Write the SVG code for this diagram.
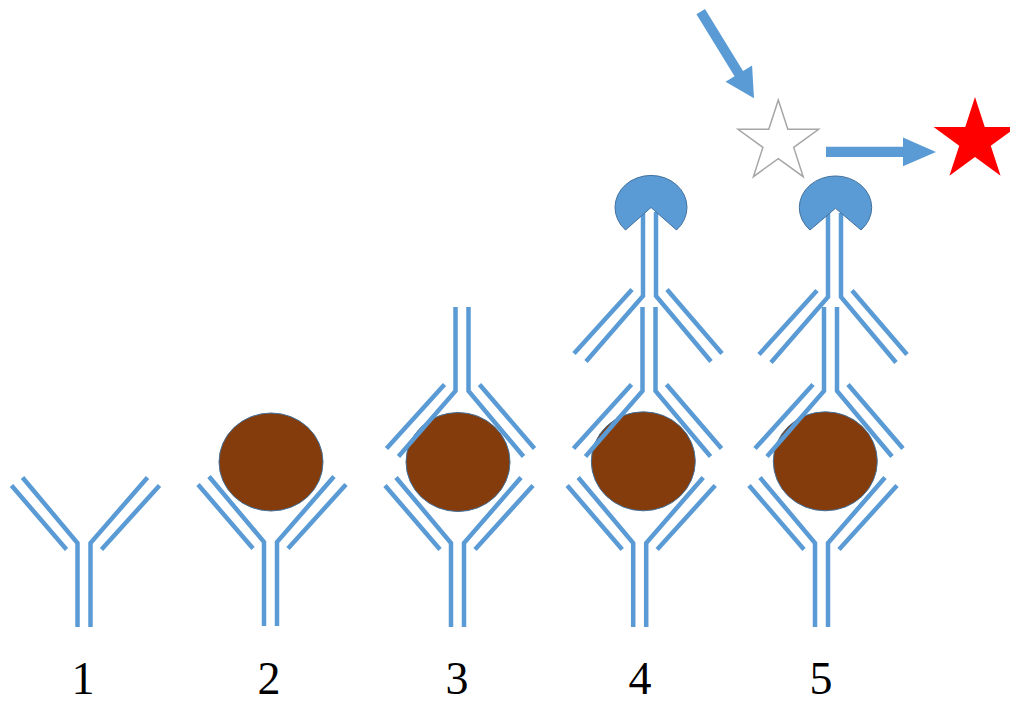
<svg xmlns="http://www.w3.org/2000/svg" xmlns:xlink="http://www.w3.org/1999/xlink" width="1010" height="704" viewBox="0 0 1010 704">
  <style>
    .ab { fill: none; stroke: #5B9BD5; stroke-width: 4.5; stroke-linejoin: miter; stroke-linecap: butt; }
    .antigen { fill: #843C0C; stroke: #41719C; stroke-width: 1; }
    .enzyme { fill: #5B9BD5; stroke: #41719C; stroke-width: 1; }
    .arrow { fill: #5B9BD5; }
    .substrate { fill: #FFFFFF; stroke: #A6A6A6; stroke-width: 1.5; }
    .product { fill: #FF0000; }
    .label { font-family: "Liberation Serif", "Times New Roman", serif; font-size: 46px; fill: #000000; text-anchor: middle; }
  </style>
  <defs>
    <!-- Y-shaped antibody, origin at the hinge, stem pointing down -->
    <g id="antibody">
      <polyline class="ab" points="-61.5,-65.5 -6.5,0 -6.5,84"/>
      <polyline class="ab" points="63.5,-65.5 6.5,0 6.5,84"/>
      <line class="ab" x1="-72.5" y1="-57.5" x2="-17.5" y2="6.5"/>
      <line class="ab" x1="75.5" y1="-57.5" x2="17.5" y2="6.5"/>
    </g>
  </defs>

  <!-- 1: capture antibody alone -->
  <g id="step1">
    <use xlink:href="#antibody" transform="translate(84,543)"/>
  </g>

  <!-- 2: antigen bound -->
  <g id="step2">
    <ellipse class="antigen" cx="271" cy="462" rx="52" ry="49"/>
    <use xlink:href="#antibody" transform="translate(270.5,542)"/>
  </g>

  <!-- 3: detection antibody added -->
  <g id="step3">
    <ellipse class="antigen" cx="458" cy="462" rx="52" ry="49.5"/>
    <use xlink:href="#antibody" transform="translate(457.5,543)"/>
    <use xlink:href="#antibody" transform="translate(462,391) rotate(180)"/>
  </g>

  <!-- 4: enzyme-linked secondary antibody -->
  <g id="step4">
    <ellipse class="antigen" cx="643.3" cy="461.3" rx="52" ry="49.5"/>
    <use xlink:href="#antibody" transform="translate(639.7,543)"/>
    <use xlink:href="#antibody" transform="translate(649,391) rotate(180)"/>
    <use xlink:href="#antibody" transform="translate(649.5,296) rotate(180)"/>
    <path class="enzyme" d="M651,207.5 L676.5,230 A36,32 0 1 0 625.5,230 Z"/>
  </g>

  <!-- 5: substrate conversion -->
  <g id="step5">
    <ellipse class="antigen" cx="825.3" cy="461.3" rx="52" ry="49.5"/>
    <use xlink:href="#antibody" transform="translate(821.5,543)"/>
    <use xlink:href="#antibody" transform="translate(830.5,391) rotate(180)"/>
    <use xlink:href="#antibody" transform="translate(834.5,297) rotate(180)"/>
    <path class="enzyme" d="M835.5,208.3 L861,230 A36.2,31.6 0 1 0 810,230 Z"/>
  </g>

  <g id="substrate">
    <polygon class="substrate" points="778.3,100 787.82,129.29 818.63,129.3 793.71,147.41 803.22,176.7 778.3,158.6 753.38,176.7 762.89,147.41 737.97,129.3 768.78,129.29"/>
  </g>

  <g id="product">
    <polygon class="product" points="975,97 984.76,127.07 1016.37,127.06 990.79,145.63 1000.57,175.69 975,157.1 949.43,175.69 959.21,145.63 933.63,127.06 965.24,127.07"/>
  </g>

  <g id="connectors">
    <polygon class="arrow" points="704.96,9.08 743.06,70.95 752.08,65.4 754,98.25 725.52,81.74 734.54,76.19 696.44,14.32"/>
    <polygon class="arrow" points="826,146.8 903,146.8 903,137.5 936,152 903,166.3 903,157 826,157"/>
  </g>

  <g id="labels">
    <text class="label" x="83" y="694">1</text>
    <text class="label" x="269" y="694">2</text>
    <text class="label" x="457" y="694">3</text>
    <text class="label" x="640" y="694">4</text>
    <text class="label" x="821" y="694">5</text>
  </g>
</svg>
